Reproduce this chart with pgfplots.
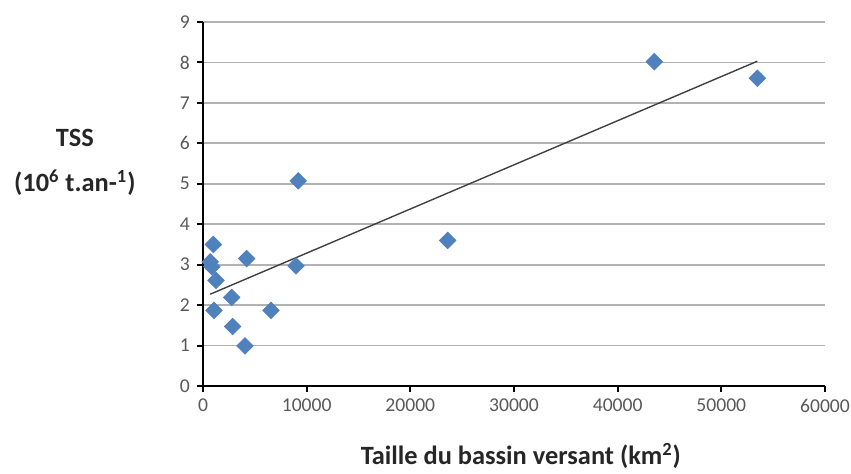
\documentclass[border=0pt]{standalone}
\usepackage{fontspec}
\setmainfont{Carlito}
\usepackage{pgfplots}
\pgfplotsset{compat=1.18}
\definecolor{ptblue}{HTML}{4F81BD}
\definecolor{tickgray}{HTML}{595959}
\begin{document}
\begin{tikzpicture}
\begin{axis}[
  scale only axis, width=311pt, height=182pt,
  at={(0,0)}, anchor=south west,
  xmin=0, xmax=60000, ymin=0, ymax=9,
  xtick={0,10000,20000,30000,40000,50000,60000},
  ytick={0,1,2,3,4,5,6,7,8,9},
  scaled x ticks=false,
  xticklabel style={/pgf/number format/.cd,1000 sep={},fixed},
  /pgf/number format/assume math mode=true,
  ticklabel style={font=\fontsize{9.8}{11}\selectfont, text=tickgray},
  axis x line*=bottom, axis y line*=left,
  axis line style={line width=1.4pt, -},
  tick style={black, line width=1pt},
  tick align=outside, major tick length=3pt,
  ymajorgrids, grid style={black!30, line width=0.9pt},
  xlabel={Taille du bassin versant (km\textsuperscript{2})},
  xlabel style={at={(axis description cs:0.511,0)}, yshift=-35pt, anchor=center,
    font=\fontsize{13.2}{16}\selectfont\bfseries, text=black!85},
  ylabel={TSS\\(10\textsuperscript{6} t.an-\textsuperscript{1})},
  ylabel style={rotate=-90, at={(axis description cs:-0.206,0.614)}, anchor=center,
    align=center, font=\fontsize{13.2}{22.5}\selectfont\bfseries, text=black!85},
  clip=false,
]
\addplot[black!75, line width=0.7pt] coordinates {(700,2.27) (53470,8.03)};
\addplot[only marks, mark=square*, mark size=2.9pt,
  mark options={rotate=45, fill=ptblue, draw=ptblue}] coordinates {
  (993,3.50)
  (700,3.07)
  (850,2.95)
  (1254,2.61)
  (4210,3.15)
  (2770,2.19)
  (1060,1.87)
  (6560,1.87)
  (2860,1.47)
  (4050,0.99)
  (8970,2.97)
  (9190,5.07)
  (23600,3.60)
  (43540,8.02)
  (53470,7.61)
};
\end{axis}
\pgfresetboundingbox
\useasboundingbox (-101.5pt,-44pt) rectangle (324pt,193pt);
\end{tikzpicture}
\end{document}
